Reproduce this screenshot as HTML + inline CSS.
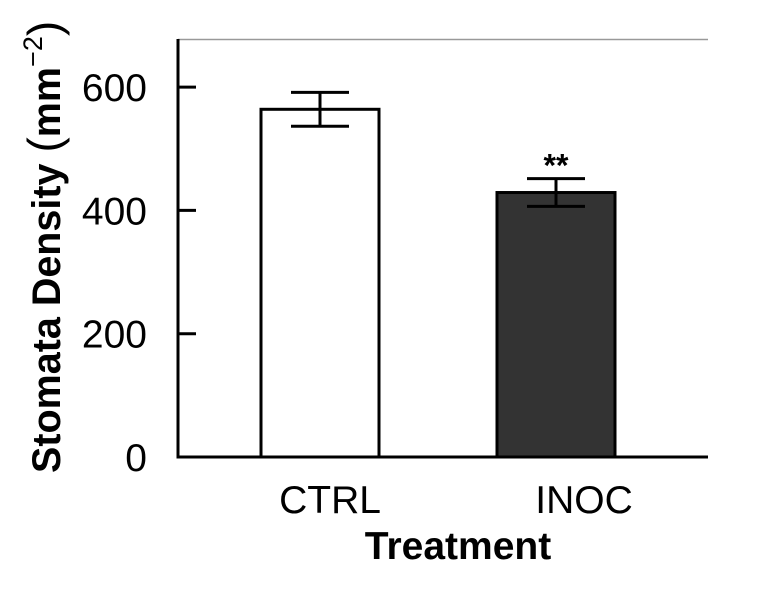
<!DOCTYPE html>
<html><head><meta charset="utf-8"><style>
html,body{margin:0;padding:0;background:#fff;}
svg{display:block;font-family:"Liberation Sans",Arial,sans-serif;}
</style></head><body>
<svg id="chart" width="763" height="589" viewBox="0 0 763 589">
<line x1="178" y1="39.5" x2="708" y2="39.5" stroke="#999" stroke-width="1.5"/>
<g id="marks"></g>
<g id="axes"></g>
<text x="458" y="559" text-anchor="middle" font-size="39" font-weight="bold">Treatment</text>
<text transform="translate(60,473) rotate(-90)" font-size="39.5" font-weight="bold">Stomata Density <tspan font-weight="normal" font-size="46">(</tspan>mm<tspan font-weight="normal" font-size="27" dy="-18">−2</tspan><tspan font-weight="normal" font-size="46" dy="18">)</tspan></text>
</svg>
<script>
const categories = ["CTRL", "INOC"];
const means = [564, 429];
const errors = [27.5, 22.5];
const fills = ["#ffffff", "#333333"];
const significance = ["", "**"];
const yTicks = [0, 200, 400, 600];

const NS = "http://www.w3.org/2000/svg";
const y0 = 457, pxPerUnit = 123.3 / 200;
function yScale(v){ return y0 - v * pxPerUnit; }
function xCenter(i){ return 320 + 236 * i; }
const barW = 118, capW = 58;

function mk(tag, attrs, parent){
  const el = document.createElementNS(NS, tag);
  for (const k in attrs) el.setAttribute(k, attrs[k]);
  parent.appendChild(el);
  return el;
}
const marks = document.getElementById('marks');
const axes = document.getElementById('axes');

categories.forEach((c, i) => {
  const cx = xCenter(i), top = yScale(means[i]);
  const r = mk('rect', {x: cx - barW/2, y: top, width: barW, height: y0 - top, fill: fills[i], stroke: '#000', 'stroke-width': 3}, marks);
  
  
  const hi = yScale(means[i] + errors[i]), lo = yScale(means[i] - errors[i]);
  const g = mk('g', {stroke: '#000', 'stroke-width': 3}, marks);
  
  
  mk('line', {x1: cx, y1: hi, x2: cx, y2: lo}, g);
  mk('line', {x1: cx - capW/2, y1: hi, x2: cx + capW/2, y2: hi}, g);
  mk('line', {x1: cx - capW/2, y1: lo, x2: cx + capW/2, y2: lo}, g);
  if (significance[i]) {
    const s = mk('text', {x: cx, y: hi - 2, 'text-anchor': 'middle', 'font-size': 32, 'font-weight': 'bold'}, marks);
    s.textContent = significance[i];
    
    
  }
  const t = mk('text', {x: cx + 10 + 18 * i, y: 513, 'text-anchor': 'middle', 'font-size': 39}, axes);
  t.textContent = c;
  
  
});

const ya = mk('line', {x1: 178, y1: 39, x2: 178, y2: y0 + 1.5, stroke: '#000', 'stroke-width': 3}, axes);


const xa = mk('line', {x1: 176.5, y1: y0, x2: 708, y2: y0, stroke: '#000', 'stroke-width': 3}, axes);



yTicks.forEach(v => {
  const y = yScale(v);
  if (v > 0) {
    const tk = mk('line', {x1: 178, y1: y, x2: 196, y2: y, stroke: '#000', 'stroke-width': 3}, axes);
    
    
  }
  const lb = mk('text', {x: 147, y: y + 14, 'text-anchor': 'end', 'font-size': 39}, axes);
  lb.textContent = v;
  
  
});
</script>
</body></html>
